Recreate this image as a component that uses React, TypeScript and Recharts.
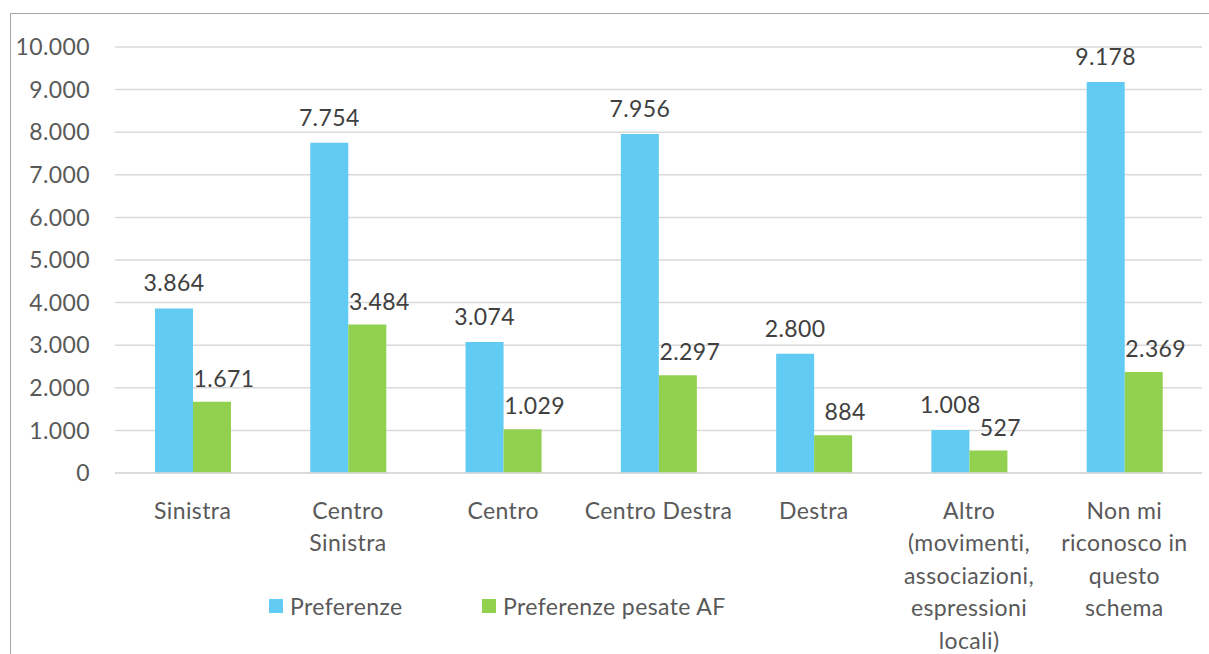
import React from 'react';
import { BarChart, Bar, XAxis, YAxis, CartesianGrid, Legend, LabelList } from 'recharts';

const categories = [
  'Sinistra',
  'Centro Sinistra',
  'Centro',
  'Centro Destra',
  'Destra',
  'Altro (movimenti, associazioni, espressioni locali)',
  'Non mi riconosco in questo schema',
];
const categoryLines = [
  ['Sinistra'],
  ['Centro', 'Sinistra'],
  ['Centro'],
  ['Centro Destra'],
  ['Destra'],
  ['Altro', '(movimenti,', 'associazioni,', 'espressioni', 'locali)'],
  ['Non mi', 'riconosco in', 'questo', 'schema'],
];
const preferenze = [3864, 7754, 3074, 7956, 2800, 1008, 9178];
const preferenzePesate = [1671, 3484, 1029, 2297, 884, 527, 2369];
const yTicks = [0, 1000, 2000, 3000, 4000, 5000, 6000, 7000, 8000, 9000, 10000];

const BLUE = '#61CBF3';
const GREEN = '#92D050';
const FONT = "Lato, 'Open Sans', sans-serif";

const data = categories.map((name, i) => ({
  name,
  pref: preferenze[i],
  pesate: preferenzePesate[i],
}));

const fmt = (v: number) => String(v).replace(/\B(?=(\d{3})+(?!\d))/g, '.');

const CategoryTick = (props: any) => {
  const { x, y, payload } = props;
  const lines = categoryLines[payload.index] || [String(payload.value)];
  return (
    <text x={x} y={y} textAnchor="middle" fill="#595959" fontSize={23} fontFamily={FONT} letterSpacing={0.4}>
      {lines.map((l: string, i: number) => (
        <tspan key={i} x={x} dy={i === 0 ? 38 : 32.4}>
          {l}
        </tspan>
      ))}
    </text>
  );
};

const makeLabel = (dx: number, dy: number) => (props: any) => {
  const { x, y, width, value } = props;
  return (
    <text
      x={x + width / 2 + dx}
      y={y - dy}
      textAnchor="middle"
      fill="#404040"
      fontSize={23}
      fontFamily={FONT}
      letterSpacing={0.4}
    >
      {fmt(value)}
    </text>
  );
};

const LegendContent = () => (
  <div style={{ position: 'relative', height: 30, fontFamily: FONT, fontSize: 23, color: '#595959', letterSpacing: 0.4 }}>
    {[
      { label: 'Preferenze', color: BLUE, left: 261 },
      { label: 'Preferenze pesate AF', color: GREEN, left: 474 },
    ].map((it) => (
      <div key={it.label} style={{ position: 'absolute', left: it.left, top: 0, display: 'flex', alignItems: 'center', height: 30 }}>
        <span style={{ width: 14, height: 14, background: it.color, display: 'inline-block', marginRight: 7 }} />
        <span style={{ lineHeight: '30px', whiteSpace: 'nowrap' }}>{it.label}</span>
      </div>
    ))}
  </div>
);

export default function App() {
  return (
    <div style={{ position: 'relative', width: 1209, height: 654, overflow: 'hidden', background: '#fff' }}>
      <style>{'html,body{margin:0;padding:0;overflow:hidden;}'}</style>
      {/* chart frame: only the top and left edges are in view */}
      <div style={{ position: 'absolute', left: 10, top: 13, width: 1199, height: 1, background: '#a6a6a6' }} />
      <div style={{ position: 'absolute', left: 10, top: 13, width: 1, height: 641, background: '#a6a6a6' }} />
      <div style={{ position: 'absolute', left: 8, top: 8 }}>
        <BarChart
          width={1201}
          height={646}
          data={data}
          margin={{ top: 39, right: 7, left: 0, bottom: 0 }}
          barGap={0}
          barSize={38}
        >
          <CartesianGrid vertical={false} stroke="#d9d9d9" strokeWidth={1.5} />
          <XAxis
            dataKey="name"
            height={151}
            interval={0}
            tickLine={false}
            axisLine={{ stroke: '#d9d9d9', strokeWidth: 1.5 }}
            tick={<CategoryTick />}
          />
          <YAxis
            width={107}
            domain={[0, 10000]}
            ticks={yTicks}
            tickFormatter={fmt}
            axisLine={false}
            tickLine={false}
            tickMargin={19}
            tick={{ fill: '#595959', fontSize: 23, fontFamily: FONT, letterSpacing: 0.4 }}
          />
          <Legend
            verticalAlign="bottom"
            content={<LegendContent />}
            wrapperStyle={{ left: 0, top: 583, width: 1201, height: 30 }}
          />
          <Bar dataKey="pref" name="Preferenze" fill={BLUE} isAnimationActive={false}>
            <LabelList dataKey="pref" content={makeLabel(0, 17)} />
          </Bar>
          <Bar dataKey="pesate" name="Preferenze pesate AF" fill={GREEN} isAnimationActive={false}>
            <LabelList dataKey="pesate" content={makeLabel(12, 15)} />
          </Bar>
        </BarChart>
      </div>
    </div>
  );
}
